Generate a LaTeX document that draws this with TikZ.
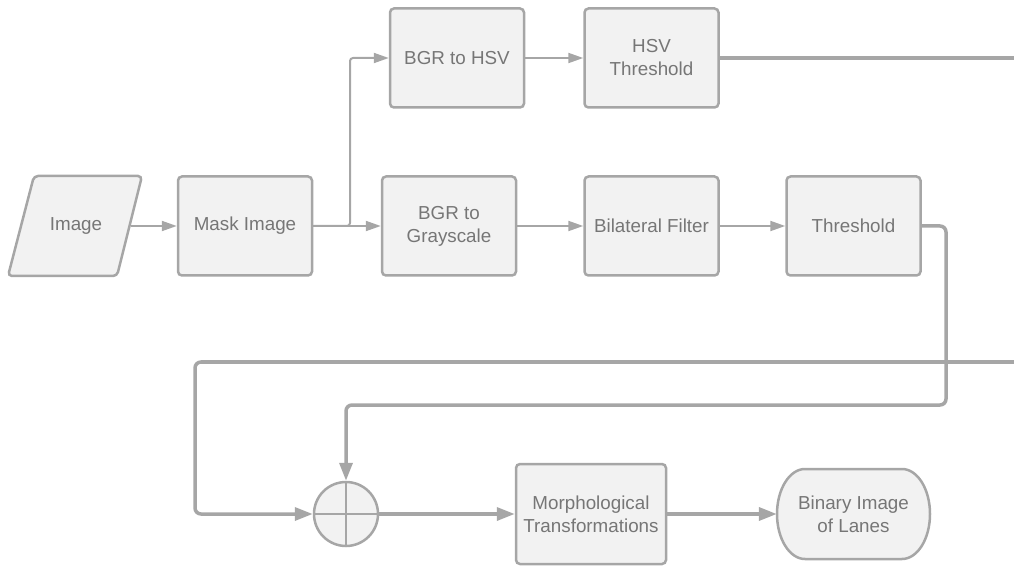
\documentclass[tikz,border=0pt]{standalone}
\usepackage{fontspec}
\setmainfont{Liberation Sans}
\usetikzlibrary{arrows.meta,calc}
\definecolor{edgegray}{HTML}{A6A6A6}
\definecolor{boxfill}{HTML}{F2F2F2}
\definecolor{txtgray}{HTML}{767676}
\tikzset{
  lbl/.style={text=txtgray, font=\fontsize{18.8}{23}\selectfont, align=center, inner sep=0pt},
  blk/.style={lbl, rectangle, rounded corners=4pt, draw=edgegray, fill=boxfill, line width=2.5pt, minimum width=134pt, minimum height=99pt},
  outline/.style={draw=edgegray, fill=boxfill, line width=2.5pt},
  thinarr/.style={draw=edgegray, line width=2pt, rounded corners=3pt, -{Triangle[length=15pt,width=10pt]}},
  thickline/.style={draw=edgegray, line width=3.5pt, rounded corners=6pt},
  thickarr/.style={thickline, -{Triangle[length=18pt,width=13pt]}},
}
\begin{document}
\begin{tikzpicture}[x=1pt,y=1pt]
\useasboundingbox (0,0) rectangle (1014,568);

% parallelogram input
\draw[outline, rounded corners=4pt] (89,392) -- (142,392) -- (117,292) -- (8,292) -- (34,392) -- cycle;
\node[lbl, minimum width=109pt, minimum height=101pt] (img) at (76,342) {Image};

\node[blk] (mask) at (245,342) {Mask Image};
\node[blk] (gray) at (449,342) {BGR to\\Grayscale};
\node[blk] (bil) at (651.5,342) {Bilateral Filter};
\node[blk] (thr) at (853.5,342) {Threshold};
\node[blk] (hsv) at (457,510) {BGR to HSV};
\node[blk] (hsvt) at (651.5,510) {HSV\\Threshold};
\node[blk, minimum width=150pt, minimum height=100pt] (morph) at (591,54) {Morphological\\Transformations};

% terminal
\draw[outline] (805,99) -- (902,99) arc[start angle=90, end angle=-90, x radius=28, y radius=45]
  -- (805,9) arc[start angle=270, end angle=90, x radius=28, y radius=45] -- cycle;
\node[lbl, minimum width=153pt, minimum height=90pt] (bin) at (853.5,54) {Binary Image\\of Lanes};

% summing junction
\node[circle, outline, minimum size=64pt, inner sep=0pt] (sum) at (346,54) {};
\draw[draw=edgegray, line width=2pt] (sum.north) -- (sum.south) (sum.west) -- (sum.east);

\coordinate (split) at (350,342);
\coordinate (hout) at (1014,510);
\coordinate (rin) at (1014,206);

\draw[thinarr] (img.east) -- (mask.west);
\draw[thinarr] (mask.east) -- (gray.west);
\draw[thinarr] (mask.east) -- (split) |- (hsv.west);
\draw[thinarr] (hsv.east) -- (hsvt.west);
\draw[thinarr] (gray.east) -- (bil.west);
\draw[thinarr] (bil.east) -- (thr.west);

\draw[thickline] (hsvt.east) -- (hout);
\draw[thickarr] (thr.east) -- (946,342) -- (946,163) -- (346,163) -- (sum.north);
\draw[thickarr] (rin) -- (195,206) -- (195,54) -- (sum.west);
\draw[thickarr] (sum.east) -- (morph.west);
\draw[thickarr] (morph.east) -- (bin.west);
\end{tikzpicture}
\end{document}
